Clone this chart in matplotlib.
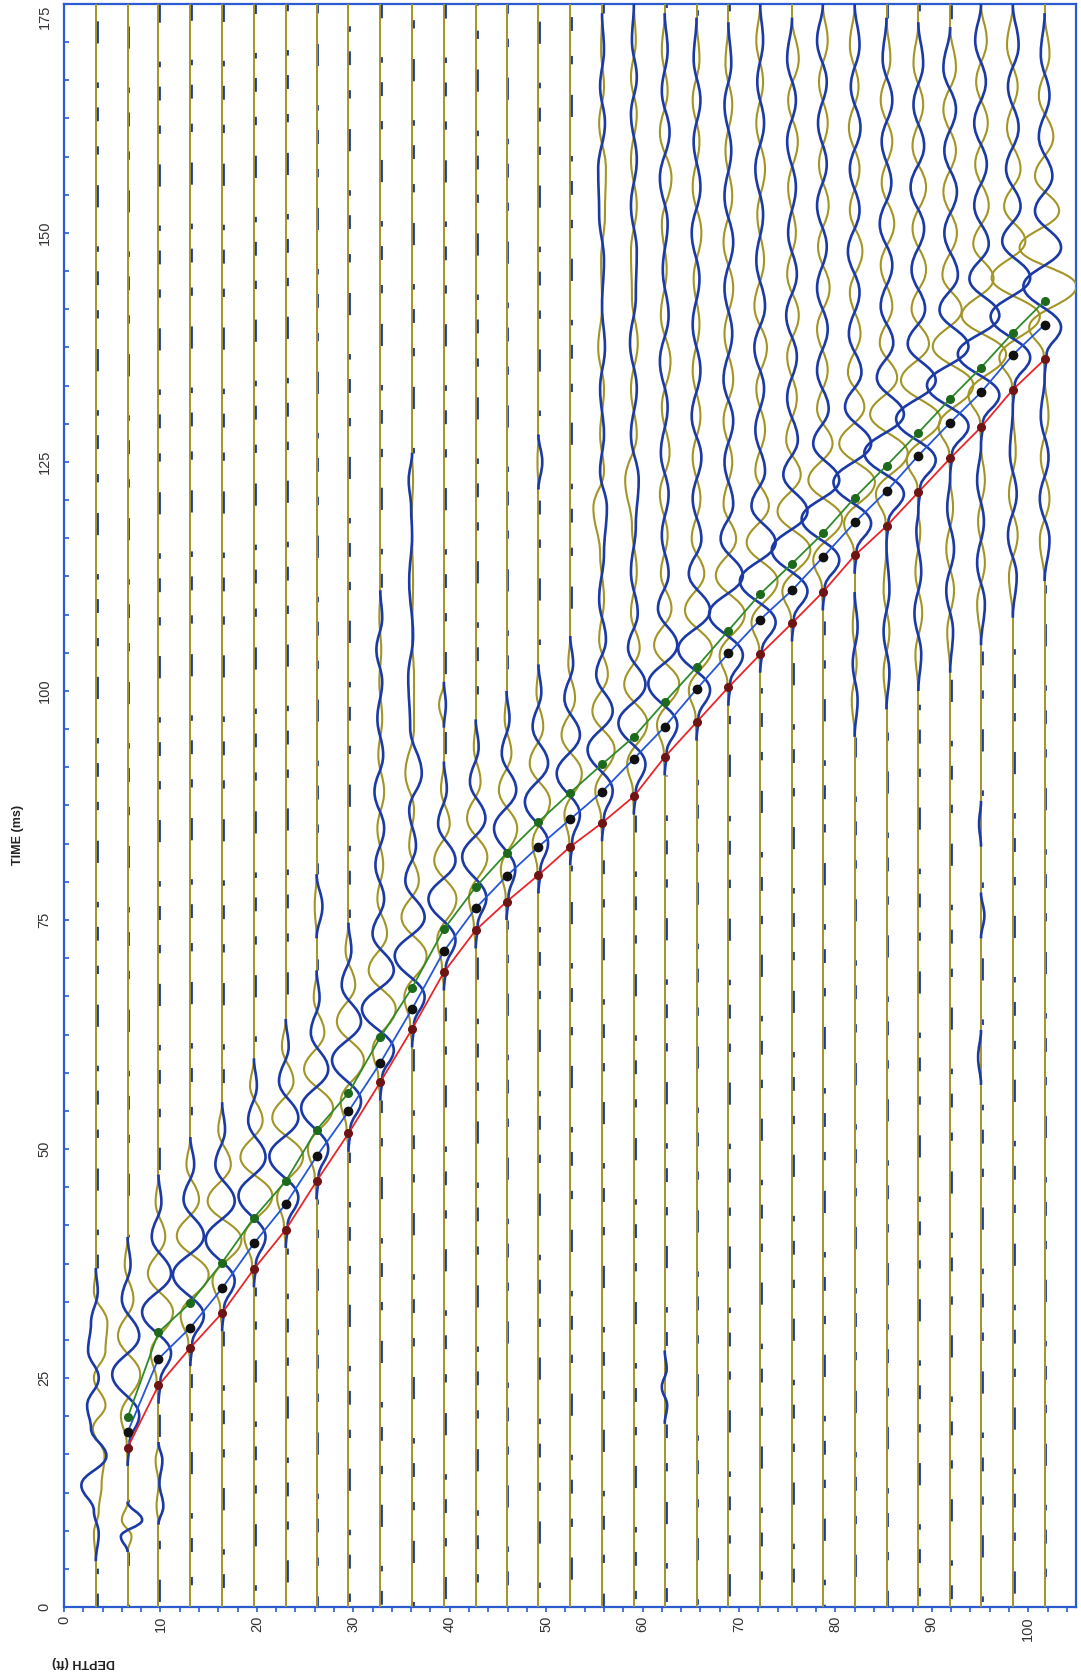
import matplotlib
matplotlib.use('Agg')
import matplotlib.pyplot as plt
from matplotlib.path import Path
from matplotlib.patches import PathPatch
from matplotlib.ticker import MultipleLocator, AutoMinorLocator, FuncFormatter

plt.rcParams['font.family'] = ['Liberation Sans', 'DejaVu Sans']

# receiver depths (ft), one trace per 1 m
DEPTHS = [3.3, 6.6, 9.8, 13.1, 16.4, 19.7, 23.0, 26.2, 29.5, 32.8, 36.1, 39.4, 42.7, 45.9,
          49.2, 52.5, 55.8, 59.1, 62.3, 65.6, 68.9, 72.2, 75.5, 78.7, 82.0, 85.3, 88.6,
          91.9, 95.1, 98.4, 101.7]

# first-arrival picks (ms) for traces 2..31
PICK_DEPTHS = DEPTHS[1:]
PICK_GREEN = [20.7, 30.0, 33.2, 37.6, 42.5, 46.5, 52.1, 56.1, 62.2, 67.6, 74.0, 78.6, 82.3,
              85.7, 88.9, 92.0, 95.0, 98.8, 102.6, 106.6, 110.6, 113.9, 117.2, 121.1, 124.6,
              128.2, 131.9, 135.3, 139.1, 142.6]
PICK_BLACK = [19.1, 27.1, 30.5, 34.8, 39.7, 44.0, 49.2, 54.1, 59.4, 65.3, 71.6, 76.3, 79.8,
              83.0, 86.0, 89.0, 92.6, 96.1, 100.2, 104.1, 107.8, 111.0, 114.6, 118.4, 121.8,
              125.7, 129.3, 132.6, 136.7, 140.0]
PICK_RED = [17.4, 24.2, 28.3, 32.1, 36.9, 41.2, 46.5, 51.7, 57.3, 63.1, 69.3, 73.9, 77.0,
            79.9, 83.0, 85.6, 88.5, 92.8, 96.6, 100.4, 104.0, 107.4, 110.8, 114.8, 118.0,
            121.7, 125.4, 128.8, 132.9, 136.2]

# waveform turning points per trace: times (ms), blue and olive deflection (ft)
WAVE_T = [
    [5, 8, 10.5, 13.3, 16.5, 19.5, 22, 25, 28, 31, 34.5, 37],
    [6, 7.7, 9.5, 11.5, 15.4, 17.9, 20.9, 25.4, 29.6, 33.6, 37.4, 40.4],
    [9, 11, 13.5, 16, 18, 22.2, 24.7, 27.7, 32.2, 36.4, 40.4, 44.2, 47.2],
    [26.3, 28.8, 31.8, 36.3, 40.5, 44.5, 48.3, 51.3],
    [30.1, 32.6, 35.6, 40.1, 44.3, 48.3, 52.1, 55.1],
    [34.9, 37.4, 40.4, 44.9, 49.1, 53.1, 56.9, 59.9],
    [39.2, 41.7, 44.7, 49.2, 53.4, 57.4, 61.2, 64.2],
    [44.5, 47.0, 50.0, 54.5, 58.7, 62.7, 66.5, 69.5, 73, 76.5, 80],
    [49.7, 52.2, 55.2, 59.7, 63.9, 67.9, 71.7, 74.7],
    [55.3, 57.8, 60.8, 65.3, 69.5, 73.5, 77.3, 81, 85, 89, 93, 97, 101, 104.5, 108, 111],
    [61.1, 63.6, 66.6, 71.1, 75.3, 79.3, 83.1, 87, 91, 96, 101.5, 106, 112, 117, 120, 123, 126],
    [67.3, 69.8, 72.8, 77.3, 81.5, 85.5, 89.3, 92.3, 96, 98.5, 101],
    [71.9, 74.4, 77.4, 81.9, 86.1, 90.1, 93.9, 96.9],
    [75.0, 77.5, 80.5, 85.0, 89.2, 93.2, 97.0, 100.0],
    [77.9, 80.4, 83.4, 87.9, 92.1, 96.1, 99.9, 102.9, 122, 125, 128],
    [81.0, 83.5, 86.5, 91.0, 95.2, 99.2, 103.0, 106.0],
    [83.6, 86.1, 89.1, 93.6, 97.8, 101.8, 105.6, 110, 115, 120, 124, 128, 133, 137.5, 142,
     147, 152, 157, 162, 166, 170, 174],
    [86.5, 89.0, 92.0, 96.5, 100.7, 104.7, 108.5, 113, 118, 123, 128, 133, 138, 143, 148,
     153, 158, 163, 167, 171, 175],
    [20, 22, 24, 26, 28, 90.8, 93.3, 96.3, 100.8, 105.0, 109.0, 112.8, 117, 121.5, 126, 131,
     136, 141, 146, 151, 156, 161, 165.5, 170, 174],
    [94.6, 97.1, 100.1, 104.6, 108.8, 112.8, 116.6, 121, 125.5, 130, 135, 140, 145, 150, 155,
     160, 164.5, 169, 173.5],
    [98.4, 100.9, 103.9, 108.4, 112.6, 116.6, 120.4, 125, 129.5, 134, 139, 144, 149, 154, 159,
     164, 168.5, 173],
    [102.0, 104.5, 107.5, 112.0, 116.2, 120.2, 124.0, 128.5, 133, 137.5, 142, 147, 152, 157,
     162, 166.5, 171, 175],
    [105.4, 107.9, 110.9, 115.4, 119.6, 123.6, 127.4, 132, 136.5, 141, 145.5, 150, 155, 160,
     164.5, 169, 173.5],
    [108.8, 111.3, 114.3, 118.8, 123.0, 127.0, 130.8, 135, 139.5, 144, 148.5, 153, 157.5, 162,
     166.5, 171, 175],
    [95, 99, 103, 107, 110.8, 112.8, 115.3, 118.3, 122.8, 127.0, 131.0, 134.8, 139, 143.5, 148,
     152.5, 157, 161.5, 166, 170.5, 175],
    [98, 102, 106.5, 111, 116.0, 118.5, 121.5, 126.0, 130.2, 134.2, 138.0, 142, 146.5, 151,
     155.5, 160, 164.5, 169, 173.5],
    [100, 104, 108.5, 113, 117.5, 119.7, 122.2, 125.2, 129.7, 133.9, 137.9, 141.7, 146, 150.5,
     155, 159.5, 164, 168.5, 173],
    [102, 106.5, 111, 115.5, 120, 123.4, 125.9, 128.9, 133.4, 137.6, 141.6, 145.4, 150, 154.5,
     159, 163.5, 168, 172.5],
    [57, 60, 63, 73, 75.5, 78, 83, 85.5, 88, 105, 109.5, 114, 118.5, 123, 126.8, 129.3, 132.3,
     136.8, 141.0, 145.0, 148.8, 153, 157.5, 162, 166.5, 171, 175],
    [108, 112.5, 117, 121.5, 126, 130.9, 133.4, 136.4, 140.9, 145.1, 149.1, 152.9, 157, 161.5,
     166, 170.5, 175],
    [112, 116.5, 121, 125.5, 130, 134.2, 136.7, 139.7, 144.2, 148.4, 152.4, 156.2, 160.5, 165,
     169.5, 174],
]

WAVE_BLUE = [
    [0, 0.3, -0.2, -1.5, 1.1, -0.5, -0.9, 0.3, -0.8, -0.5, 0.2, 0],
    [0, -0.7, 1.5, 0, 0, 0.2, 1.2, -1.6, 1.2, -0.6, 0.3, 0],
    [0, 0.5, 0.1, 0.4, 0, 0, 0.2, 1.3, -1.7, 1.3, -0.7, 0.3, 0],
    [0, 0.2, 1.4, -1.8, 1.4, -0.7, 0.4, 0],
    [0, 0.2, 1.3, -1.7, 1.3, -0.7, 0.3, 0],
    [0, 0.2, 1.2, -1.6, 1.2, -0.6, 0.3, 0],
    [0, 0.2, 1.3, -1.7, 1.3, -0.7, 0.3, 0],
    [0, 0.2, 1.2, -1.6, 1.2, -0.6, 0.3, 0, 0, 0.6, 0],
    [0, 0.2, 1.3, -1.7, 1.3, -0.7, 0.3, 0],
    [0, 0.2, 1.4, -1.9, 1.4, -0.8, 0.4, -0.5, 0.4, -0.6, 0.3, -0.3, 0.2, -0.4, 0.2, 0],
    [0, 0.2, 1.3, -1.8, 1.3, -0.7, 0.4, -0.3, 1.0, -0.2, -0.4, 0.1, -0.3, 0, -0.1, -0.35, 0],
    [0, 0.2, 1.2, -1.6, 1.2, -0.6, 0.3, 0, 0, 0.2, 0],
    [0, 0.2, 1.1, -1.4, 1.0, -0.6, 0.3, 0],
    [0, 0.2, 0.9, -1.3, 1.0, -0.5, 0.3, 0],
    [0, 0.2, 1.0, -1.4, 1.0, -0.6, 0.3, 0, 0, 0.4, 0],
    [0, 0.2, 1.0, -1.4, 1.0, -0.6, 0.3, 0],
    [0, 0.2, 1.1, -1.5, 1.1, -0.6, 0.4, -0.3, 0.2, 0.5, -0.2, 0.2, -0.2, 0.3, 0, 0.2, -0.3,
     -0.4, 0.3, -0.2, 0.2, 0],
    [0, 0.2, 1.2, -1.6, 1.2, -0.6, 0.4, -0.3, 0.2, 0.5, -0.3, 0.3, -0.4, 0.2, 0.3, -0.3, 0.3,
     -0.3, 0.3, -0.2, 0],
    [0, 0.25, -0.3, 0.2, 0, 0, 0.2, 1.3, -1.7, 1.3, -0.7, 0.4, -0.3, 0.4, -0.4, 0.3, -0.5, 0.4,
     -0.2, 0.3, -0.5, 0.5, -0.3, 0.3, 0],
    [0, 0.2, 1.4, -1.9, 1.4, -0.8, 0.5, -0.4, 0.5, -0.5, 0.4, -0.4, 0.3, -0.5, 0.4, -0.3, 0.4,
     -0.3, 0],
    [0, 0.2, 1.5, -2.0, 1.5, -0.8, 0.5, -0.4, 0.5, -0.5, 0.4, -0.4, 0.5, -0.4, 0.3, -0.4, 0.3, 0],
    [0, 0.2, 1.6, -2.1, 1.6, -0.9, 0.5, -0.5, 0.4, -0.6, 0.5, -0.4, 0.3, -0.5, 0.4, -0.3, 0.3, 0],
    [0, 0.2, 1.6, -2.1, 1.6, -0.9, 0.6, -0.5, 0.5, -0.6, 0.5, -0.4, 0.4, -0.5, 0.4, -0.5, 0],
    [0, 0.2, 1.7, -2.2, 1.7, -1.0, 0.6, -0.6, 0.5, -0.6, 0.4, -0.6, 0.4, -0.5, 0.4, -0.6, 0],
    [0, 0.3, -0.2, 0.3, 0, 0, 0.2, 1.7, -2.2, 1.7, -1.0, 0.7, -0.6, 0.5, -0.7, 0.5, -0.5, 0.6,
     -0.4, 0.5, 0],
    [0, 0.3, -0.3, 0.3, 0, 0.2, 1.8, -2.3, 1.8, -1.0, 0.7, -0.6, 0.6, -0.7, 0.5, -0.5, 0.6,
     -0.4, 0],
    [0, 0.3, -0.4, 0.3, -0.2, 0, 0.2, 1.8, -2.3, 1.8, -1.1, 0.7, -0.7, 0.6, -0.8, 0.6, -0.5,
     0.5, 0],
    [0, 0.3, -0.4, 0.4, -0.3, 0, 0.2, 1.9, -2.4, 1.9, -1.1, 0.8, -0.6, 0.7, -0.6, 0.6, -0.7, 0],
    [0, -0.3, 0, 0, 0.35, 0, 0, -0.2, 0, 0, 0.4, -0.4, 0.3, -0.4, 0, 0.2, 1.9, -2.4, 1.9, -1.2,
     0.8, -0.7, 0.6, -0.7, 0.5, -0.6, 0],
    [0, 0.4, -0.5, 0.4, -0.3, 0, 0.2, 1.8, -2.3, 1.8, -1.1, 0.8, -0.7, 0.6, -0.5, 0.6, 0],
    [0, 0.5, -0.5, 0.4, -0.4, 0, 0.2, 1.7, -2.2, 1.7, -1.0, 0.8, -0.6, 0.5, -0.4, 0],
]

WAVE_OLIVE = [
    [0, -0.2, 0.3, 0.6, 0.9, -0.3, 1.0, -0.2, 1.0, 1.2, -0.2, 0],
    [0, 0.4, -0.6, 0, 0, -0.1, -0.7, 1.3, -1.0, 0.6, -0.3, 0],
    [0, -0.2, 0, -0.3, 0, 0, -0.2, -0.8, 1.5, -1.1, 0.7, -0.3, 0],
    [0, -0.2, -1.0, 1.9, -1.4, 0.9, -0.4, 0],
    [0, -0.2, -1.0, 2.0, -1.5, 0.9, -0.4, 0],
    [0, -0.2, -1.0, 1.9, -1.4, 0.9, -0.4, 0],
    [0, -0.2, -0.9, 1.8, -1.4, 0.8, -0.4, 0],
    [0, -0.2, -0.9, 1.7, -1.3, 0.8, -0.3, 0, 0, -0.2, 0],
    [0, -0.2, -0.8, 1.6, -1.2, 0.7, -0.3, 0],
    [0, -0.2, -0.8, 1.6, -1.2, 0.7, -0.3, 0.3, -0.3, 0.4, -0.2, 0.2, -0.1, 0.1, -0.1, 0],
    [0, -0.2, -0.8, 1.5, -1.1, 0.7, -0.3, 0.2, -0.7, 0.2, 0.2, 0, 0.1, 0, 0, 0.1, 0],
    [0, -0.2, -0.7, 1.3, -1.0, 0.6, -0.3, 0, 0, -0.5, 0],
    [0, -0.2, -0.7, 1.2, -0.9, 0.5, -0.2, 0],
    [0, -0.1, -0.6, 1.1, -0.8, 0.5, -0.2, 0],
    [0, -0.1, -0.6, 1.2, -0.9, 0.5, -0.2, 0, 0, -0.1, 0],
    [0, -0.1, -0.6, 1.2, -0.9, 0.5, -0.2, 0],
    [0, -0.1, -0.7, 1.3, -1.0, 0.6, -0.3, 0.2, -0.2, -0.9, 0.2, -0.2, 0.2, -0.4, 0, -0.1, 0.3,
     0.4, -0.3, 0.2, -0.1, 0],
    [0, -0.1, -0.7, 1.4, -1.0, 0.6, -0.3, 0.3, -0.2, -0.9, 0.3, -0.3, 0.4, -0.2, -0.3, 0.3,
     -0.3, 0.3, -0.3, 0.2, 0],
    [0, 0, 0, 0, 0, 0, -0.1, -0.8, 1.5, -1.1, 0.7, -0.4, 0.3, -0.5, 0.5, -0.3, 0.6, -0.4, 0.2,
     -0.3, 0.7, -0.5, 0.3, -0.3, 0],
    [0, -0.1, -0.8, 1.6, -1.2, 0.8, -0.5, 0.4, -0.4, 0.4, -0.4, 0.3, -0.3, 0.5, -0.4, 0.3,
     -0.4, 0.3, 0],
    [0, -0.1, -0.9, 1.7, -1.3, 0.8, -0.5, 0.4, -0.5, 0.5, -0.4, 0.5, -0.5, 0.4, -0.3, 0.4,
     -0.3, 0],
    [0, -0.1, -0.9, 1.8, -1.4, 0.9, -0.5, 0.5, -0.4, 0.7, -0.6, 0.4, -0.3, 0.5, -0.4, 0.3,
     -0.4, 0],
    [0, -0.1, -1.0, 1.9, -1.5, 0.9, -0.6, 0.5, -0.5, 0.7, -0.5, 0.4, -0.4, 0.6, -0.4, 0.7, 0],
    [0, -0.1, -1.0, 2.0, -1.5, 1.0, -0.6, 0.5, -0.6, 0.7, -0.5, 0.6, -0.4, 0.5, -0.4, 0.5, 0],
    [0, -0.3, 0.2, -0.2, 0, 0, -0.1, -1.1, 2.1, -1.6, 1.0, -0.7, 0.6, -0.5, 0.8, -0.5, 0.5,
     -0.6, 0.4, -0.5, 0],
    [0, -0.3, 0.3, -0.3, 0, -0.1, -1.1, 2.2, -1.7, 1.1, -0.7, 0.6, -0.6, 0.8, -0.5, 0.6, -0.6,
     0.4, 0],
    [0, -0.3, 0.4, -0.3, 0.2, 0, -0.1, -1.2, 2.3, -1.8, 1.1, -0.7, 0.8, -0.6, 0.8, -0.6, 0.5,
     -0.5, 0],
    [0, -0.3, 0.4, -0.4, 0.3, 0, -0.1, -1.2, 2.4, -1.8, 1.2, -0.8, 0.7, -0.7, 0.6, -0.7, 0.6, 0],
    [0, 0, 0, 0, 0, 0, 0, 0, 0, 0, -0.4, 0.4, -0.3, 0.4, 0, -0.1, -1.3, 2.6, -2.0, 1.3, -0.8,
     0.8, -0.6, 0.7, -0.5, 0.6, 0],
    [0, -0.4, 0.5, -0.4, 0.3, 0, -0.1, -1.4, 2.8, -2.2, 1.3, -0.9, 0.8, -0.6, 0.5, -0.6, 0],
    [0, -0.5, 0.5, -0.4, 0.4, 0, -0.1, -1.6, 3.3, -2.6, 1.5, -1.0, 0.9, -0.6, 0.5, 0],
]

T_MAX = 175
OLIVE = '#a39524'
BLUE = '#1c3aa6'
AXIS_BLUE = '#2a5bd0'
# irregular on/off pattern for the blue trace lying under the olive baseline
BLUE_DASH = (5, 7, 2, 14, 8, 11, 3, 9)


def split_runs(offs):
    # break a trace where it sits flat on the baseline
    runs, cur = [], [0]
    for i in range(1, len(offs)):
        if offs[i - 1] == 0 and offs[i] == 0:
            if len(cur) > 1:
                runs.append(cur)
            cur = [i]
        else:
            cur.append(i)
    if len(cur) > 1:
        runs.append(cur)
    return runs


def wiggle_path(x0, times, offs, idx):
    verts = [(x0 + offs[idx[0]], times[idx[0]])]
    codes = [Path.MOVETO]
    for a, b in zip(idx[:-1], idx[1:]):
        h = 0.4 * (times[b] - times[a])
        verts += [(x0 + offs[a], times[a] + h), (x0 + offs[b], times[b] - h),
                  (x0 + offs[b], times[b])]
        codes += [Path.CURVE4] * 3
    return Path(verts, codes)


def flat_spans(times, runs):
    spans, start = [], 0
    for r in runs:
        spans.append((start, times[r[0]]))
        start = times[r[-1]]
    spans.append((start, T_MAX))
    return spans


def draw_trace(ax, k, x0, times, offs, color, lw, z, dashed):
    runs = split_runs(offs)
    for t0, t1 in flat_spans(times, runs):
        if dashed:
            # shift the dash phase per trace so the dashes do not line up
            ax.plot([x0 + 0.08, x0 + 0.08], [t0, t1], color=color, lw=2.0,
                    ls=((k * 13) % 59, BLUE_DASH), zorder=2, solid_capstyle='butt')
        else:
            ax.plot([x0, x0], [t0, t1], color=color, lw=1.4, zorder=3)
    for r in runs:
        ax.add_patch(PathPatch(wiggle_path(x0, times, offs, r), fill=False,
                               edgecolor=color, lw=lw, zorder=z))


fig = plt.figure(figsize=(10.81, 16.76), dpi=100)
ax = fig.add_axes([64 / 1081, 1 - 1607 / 1676, 1011.5 / 1081, 1603 / 1676])

for k, x0 in enumerate(DEPTHS):
    draw_trace(ax, k, x0, WAVE_T[k], WAVE_BLUE[k], BLUE, 1.9, 4, True)
    draw_trace(ax, k, x0, WAVE_T[k], WAVE_OLIVE[k], OLIVE, 1.5, 3.5, False)

# picked arrival curves
ax.plot(PICK_DEPTHS, PICK_GREEN, color='#2f8a2a', lw=1.3, zorder=6)
ax.plot(PICK_DEPTHS, PICK_GREEN, 'o', color='#1d6a1d', ms=5.5, zorder=7)
ax.plot(PICK_DEPTHS, PICK_BLACK, color='#2456d6', lw=1.3, zorder=6)
ax.plot(PICK_DEPTHS, PICK_BLACK, 'o', color='#111111', ms=6, zorder=7)
ax.plot(PICK_DEPTHS, PICK_RED, color='#e8262a', lw=1.3, zorder=6)
ax.plot(PICK_DEPTHS, PICK_RED, 'o', color='#6e1414', ms=5.5, zorder=7)

ax.set_xlim(0, 104.9)
ax.set_ylim(0, T_MAX)
ax.xaxis.set_major_locator(MultipleLocator(10))
ax.xaxis.set_minor_locator(MultipleLocator(2))
ax.yaxis.set_major_locator(MultipleLocator(25))
ax.yaxis.set_minor_locator(AutoMinorLocator(6))
# top label is drawn separately so it stays inside the figure
ax.yaxis.set_major_formatter(FuncFormatter(lambda v, p: '' if v >= T_MAX else '%d' % v))

for sp in ax.spines.values():
    sp.set_color(AXIS_BLUE)
    sp.set_linewidth(1.6)
ax.tick_params(axis='x', which='both', direction='out', length=3.5, width=1.2,
               color=AXIS_BLUE, pad=3, labelsize=10.5, labelrotation=90, labelcolor='#333333')
ax.tick_params(axis='y', which='both', direction='in', length=3.5, width=1.2,
               color=AXIS_BLUE, pad=9, labelsize=10.5, labelrotation=90, labelcolor='#333333')
for lab in ax.get_yticklabels():
    lab.set_verticalalignment('center')

ax.annotate('%d' % T_MAX, xy=(0, T_MAX), xycoords=('axes fraction', 'data'),
            xytext=(-19, -1), textcoords='offset pixels', rotation=90, ha='center', va='top',
            fontsize=10.5, color='#333333')

fig.text(0.0165, 0.502, 'TIME (ms)', rotation=90, ha='center', va='center',
         fontsize=9, fontweight='bold', color='#222222')
fig.text(0.077, 0.0085, 'DEPTH (ft)', rotation=180, ha='center', va='center',
         fontsize=9, fontweight='bold', color='#222222')

fig.savefig('out.png', dpi=100)
